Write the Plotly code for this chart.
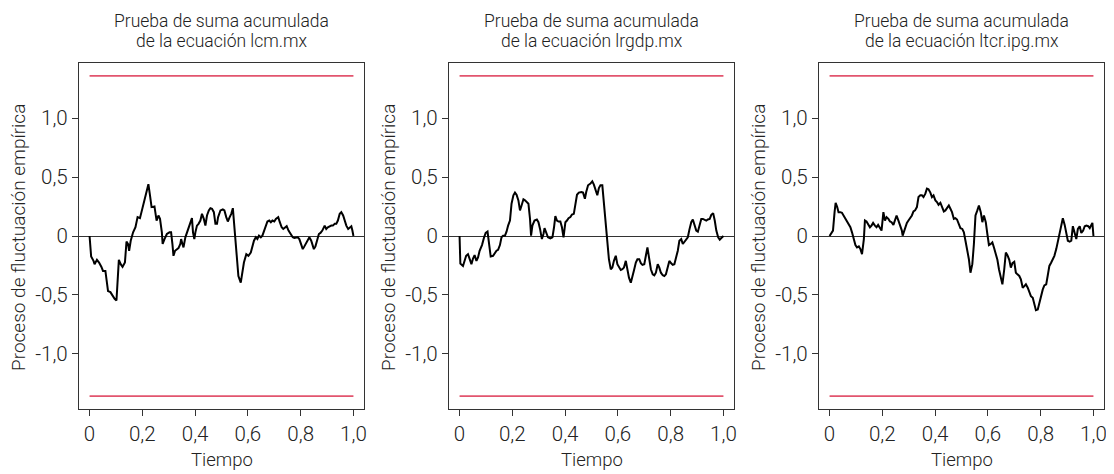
import plotly.graph_objects as go

# ---------------- data ----------------
titles_l1 = ["Prueba de suma acumulada"] * 3
titles_l2 = ["de la ecuación lcm.mx", "de la ecuación lrgdp.mx", "de la ecuación ltcr.ipg.mx"]
x_title = "Tiempo"
y_title = "Proceso de fluctuación empírica"

x_tickvals = [0, 0.2, 0.4, 0.6, 0.8, 1.0]
x_ticktext = ["0", "0,2", "0,4", "0,6", "0,8", "1,0"]
y_tickvals = [-1.0, -0.5, 0, 0.5, 1.0]
y_ticktext = ["-1,0", "-0,5", "0", "0,5", "1,0"]

boundary = 1.358  # 5% critical value of the OLS-CUSUM test

t1 = [0.0, 0.006, 0.015, 0.019, 0.028, 0.036, 0.045, 0.051, 0.060, 0.070, 0.079, 0.087, 0.095, 0.102,
      0.111, 0.118, 0.125, 0.134, 0.140, 0.146, 0.150, 0.156, 0.165, 0.174, 0.182, 0.191, 0.197, 0.204,
      0.210, 0.216, 0.223, 0.229, 0.235, 0.246, 0.254, 0.261, 0.267, 0.274, 0.277, 0.284, 0.293, 0.303,
      0.309, 0.314, 0.318, 0.324, 0.331, 0.337, 0.344, 0.347, 0.352, 0.356, 0.363, 0.369, 0.375, 0.382,
      0.388, 0.392, 0.397, 0.401, 0.407, 0.413, 0.420, 0.426, 0.433, 0.439, 0.445, 0.452, 0.458, 0.464,
      0.471, 0.477, 0.483, 0.487, 0.496, 0.505, 0.511, 0.518, 0.524, 0.531, 0.537, 0.543, 0.551, 0.557,
      0.564, 0.573, 0.579, 0.585, 0.594, 0.602, 0.611, 0.617, 0.623, 0.630, 0.636, 0.642, 0.649, 0.655,
      0.662, 0.668, 0.674, 0.681, 0.687, 0.693, 0.700, 0.706, 0.715, 0.721, 0.728, 0.734, 0.742, 0.747,
      0.754, 0.763, 0.770, 0.776, 0.782, 0.789, 0.795, 0.802, 0.808, 0.814, 0.821, 0.827, 0.833, 0.840,
      0.846, 0.850, 0.856, 0.861, 0.869, 0.875, 0.882, 0.891, 0.897, 0.903, 0.910, 0.916, 0.922, 0.929,
      0.935, 0.941, 0.948, 0.954, 0.961, 0.967, 0.973, 0.980, 0.986, 0.992, 0.996, 1.0]
v1 = [0.0, -0.174, -0.211, -0.239, -0.202, -0.225, -0.262, -0.296, -0.296, -0.467, -0.476, -0.510, -0.533, -0.547,
      -0.202, -0.239, -0.262, -0.225, -0.048, -0.068, -0.125, -0.040, 0.031, 0.074, 0.160, 0.151, 0.202, 0.274,
      0.330, 0.387, 0.439, 0.345, 0.245, 0.251, 0.131, 0.174, 0.145, 0.031, -0.068, -0.026, 0.017, 0.031,
      0.031, -0.068, -0.168, -0.125, -0.111, -0.103, -0.068, -0.026, -0.068, -0.097, -0.011, 0.031, 0.074, 0.103,
      0.151, 0.031, -0.026, 0.031, 0.088, 0.103, 0.131, 0.188, 0.145, 0.088, 0.174, 0.217, 0.236, 0.231,
      0.202, 0.103, 0.103, 0.160, 0.217, 0.225, 0.217, 0.160, 0.123, 0.160, 0.188, 0.236, 0.003, -0.168,
      -0.339, -0.396, -0.311, -0.225, -0.154, -0.168, -0.140, -0.083, -0.040, -0.011, -0.026, 0.003, -0.011, 0.003,
      0.046, 0.088, 0.123, 0.131, 0.117, 0.131, 0.123, 0.145, 0.160, 0.117, 0.074, 0.060, 0.074, 0.083,
      0.046, 0.017, -0.011, -0.017, -0.011, -0.011, -0.026, -0.068, -0.111, -0.088, -0.054, -0.026, -0.011, -0.040,
      -0.097, -0.111, -0.088, -0.054, 0.017, 0.026, 0.046, 0.088, 0.060, 0.074, 0.083, 0.088, 0.088, 0.103,
      0.103, 0.131, 0.188, 0.202, 0.174, 0.131, 0.088, 0.060, 0.074, 0.083, 0.046, 0.0]

t2 = [0.0, 0.003, 0.013, 0.019, 0.025, 0.032, 0.038, 0.045, 0.051, 0.057, 0.064, 0.070, 0.076, 0.085,
      0.093, 0.099, 0.106, 0.112, 0.118, 0.127, 0.134, 0.140, 0.146, 0.153, 0.159, 0.165, 0.172, 0.178,
      0.184, 0.191, 0.197, 0.204, 0.210, 0.216, 0.223, 0.229, 0.235, 0.242, 0.248, 0.254, 0.261, 0.267,
      0.271, 0.276, 0.284, 0.293, 0.299, 0.305, 0.312, 0.318, 0.322, 0.327, 0.335, 0.344, 0.352, 0.358,
      0.363, 0.369, 0.375, 0.382, 0.388, 0.394, 0.401, 0.407, 0.413, 0.420, 0.426, 0.433, 0.439, 0.445,
      0.452, 0.462, 0.468, 0.475, 0.480, 0.487, 0.496, 0.503, 0.509, 0.515, 0.522, 0.528, 0.534, 0.541,
      0.547, 0.553, 0.560, 0.566, 0.573, 0.579, 0.585, 0.592, 0.598, 0.604, 0.611, 0.617, 0.623, 0.630,
      0.636, 0.642, 0.649, 0.655, 0.662, 0.668, 0.674, 0.681, 0.687, 0.693, 0.700, 0.706, 0.712, 0.719,
      0.725, 0.732, 0.738, 0.744, 0.751, 0.757, 0.763, 0.770, 0.776, 0.782, 0.789, 0.795, 0.802, 0.808,
      0.814, 0.821, 0.827, 0.833, 0.840, 0.846, 0.852, 0.859, 0.865, 0.871, 0.878, 0.884, 0.891, 0.897,
      0.903, 0.910, 0.916, 0.922, 0.929, 0.935, 0.941, 0.948, 0.954, 0.961, 0.967, 0.973, 0.980, 0.986,
      0.992, 1.0]
v2 = [0.0, -0.234, -0.254, -0.211, -0.168, -0.154, -0.191, -0.239, -0.191, -0.162, -0.211, -0.182, -0.125, -0.077,
      -0.011, 0.026, 0.037, -0.068, -0.174, -0.168, -0.145, -0.125, -0.117, -0.077, -0.011, 0.003, 0.003, 0.037,
      0.088, 0.131, 0.274, 0.345, 0.368, 0.350, 0.302, 0.217, 0.259, 0.311, 0.302, 0.288, 0.274, 0.145,
      0.003, 0.088, 0.131, 0.140, 0.117, 0.060, -0.026, 0.017, 0.066, 0.037, -0.011, -0.020, -0.011, 0.074,
      0.168, 0.131, 0.123, 0.123, 0.074, -0.011, 0.117, 0.131, 0.151, 0.160, 0.182, 0.188, 0.259, 0.350,
      0.368, 0.373, 0.368, 0.316, 0.373, 0.430, 0.444, 0.464, 0.436, 0.387, 0.345, 0.407, 0.430, 0.430,
      0.288, 0.145, -0.026, -0.197, -0.282, -0.268, -0.211, -0.168, -0.239, -0.268, -0.288, -0.282, -0.268, -0.211,
      -0.282, -0.353, -0.396, -0.353, -0.282, -0.225, -0.197, -0.197, -0.231, -0.245, -0.239, -0.168, -0.097, -0.197,
      -0.282, -0.325, -0.333, -0.311, -0.239, -0.268, -0.311, -0.333, -0.339, -0.325, -0.268, -0.211, -0.231, -0.245,
      -0.239, -0.182, -0.125, -0.040, -0.026, -0.068, -0.048, -0.031, -0.011, 0.054, 0.117, 0.140, 0.088, 0.046,
      0.037, 0.094, 0.145, 0.145, 0.140, 0.131, 0.140, 0.145, 0.179, 0.194, 0.131, 0.046, -0.011, -0.031,
      -0.017, 0.0]

t3 = [0.0, 0.006, 0.013, 0.019, 0.023, 0.029, 0.034, 0.041, 0.047, 0.053, 0.060, 0.066, 0.073, 0.079,
      0.085, 0.092, 0.098, 0.104, 0.111, 0.117, 0.123, 0.130, 0.134, 0.140, 0.146, 0.153, 0.159, 0.165,
      0.172, 0.178, 0.184, 0.191, 0.197, 0.204, 0.210, 0.216, 0.223, 0.229, 0.235, 0.242, 0.248, 0.254,
      0.261, 0.267, 0.274, 0.277, 0.284, 0.293, 0.299, 0.305, 0.312, 0.318, 0.324, 0.331, 0.337, 0.344,
      0.350, 0.356, 0.363, 0.369, 0.375, 0.382, 0.388, 0.394, 0.401, 0.407, 0.413, 0.420, 0.426, 0.433,
      0.439, 0.445, 0.452, 0.458, 0.464, 0.471, 0.477, 0.483, 0.490, 0.496, 0.503, 0.509, 0.515, 0.522,
      0.528, 0.534, 0.541, 0.547, 0.553, 0.560, 0.566, 0.573, 0.579, 0.585, 0.592, 0.598, 0.604, 0.611,
      0.617, 0.623, 0.630, 0.636, 0.642, 0.649, 0.655, 0.662, 0.668, 0.674, 0.681, 0.687, 0.693, 0.700,
      0.706, 0.712, 0.719, 0.725, 0.732, 0.738, 0.744, 0.751, 0.757, 0.763, 0.770, 0.776, 0.782, 0.789,
      0.795, 0.802, 0.808, 0.814, 0.821, 0.827, 0.833, 0.840, 0.846, 0.852, 0.859, 0.865, 0.871, 0.878,
      0.884, 0.891, 0.897, 0.903, 0.910, 0.916, 0.922, 0.929, 0.935, 0.941, 0.948, 0.954, 0.961, 0.967,
      0.973, 0.980, 0.986, 0.992, 0.996, 1.0]
v3 = [0.0, 0.017, 0.046, 0.202, 0.282, 0.245, 0.202, 0.202, 0.197, 0.174, 0.145, 0.131, 0.103, 0.074,
      0.031, -0.026, -0.077, -0.097, -0.088, -0.111, -0.154, -0.026, 0.131, 0.123, 0.103, 0.074, 0.088, 0.111,
      0.088, 0.074, 0.094, 0.060, 0.046, 0.202, 0.131, 0.160, 0.145, 0.123, 0.117, 0.094, 0.145, 0.174,
      0.131, 0.094, 0.046, 0.003, 0.060, 0.111, 0.131, 0.151, 0.174, 0.208, 0.217, 0.245, 0.330, 0.345,
      0.345, 0.330, 0.359, 0.402, 0.396, 0.368, 0.330, 0.345, 0.302, 0.288, 0.265, 0.282, 0.245, 0.208,
      0.217, 0.236, 0.259, 0.231, 0.202, 0.145, 0.151, 0.140, 0.094, 0.066, 0.060, 0.031, -0.040, -0.111,
      -0.197, -0.311, -0.239, -0.068, 0.174, 0.217, 0.259, 0.202, 0.117, 0.174, 0.117, 0.017, -0.077, -0.068,
      -0.054, -0.097, -0.154, -0.202, -0.282, -0.339, -0.410, -0.282, -0.140, -0.162, -0.202, -0.268, -0.231, -0.219,
      -0.311, -0.325, -0.339, -0.368, -0.439, -0.425, -0.410, -0.439, -0.481, -0.510, -0.524, -0.581, -0.630, -0.624,
      -0.567, -0.496, -0.453, -0.419, -0.410, -0.333, -0.254, -0.225, -0.191, -0.168, -0.111, -0.048, 0.017, 0.094,
      0.151, 0.094, 0.037, -0.040, -0.048, -0.040, 0.083, 0.017, -0.026, 0.060, 0.083, 0.026, 0.046, 0.083,
      0.088, 0.083, 0.066, 0.094, 0.111, 0.0]

series_t = [t1, t2, t3]
series_v = [v1, v2, v3]

# ---------------- layout / styles ----------------
W, H = 1114, 474
OFF = 8  # default page margin of the HTML body
FONT = "Roboto, Liberation Sans, Arial, sans-serif"
WEIGHT = 300
TXT = "#222222"
AXC = "#333333"
RED = "#E2556E"
box_px = [(79, 364), (449, 734), (819, 1104)]
top_px, bot_px = 63, 409


def px_x(p):
    return (p - OFF) / W


def px_y(p):
    return 1 - (p - OFF) / H


def fnt(size):
    return dict(family=FONT, size=size, color=TXT, weight=WEIGHT)


fig = go.Figure()
annotations = []
layout_axes = {}
for i in range(3):
    sfx = "" if i == 0 else str(i + 1)
    xa, ya = "x" + sfx, "y" + sfx
    t, v = series_t[i], series_v[i]
    fig.add_trace(go.Scatter(x=[0, 1], y=[boundary, boundary], xaxis=xa, yaxis=ya, mode="lines",
                             line=dict(color=RED, width=1.8), hoverinfo="skip"))
    fig.add_trace(go.Scatter(x=[0, 1], y=[-boundary, -boundary], xaxis=xa, yaxis=ya, mode="lines",
                             line=dict(color=RED, width=1.8), hoverinfo="skip"))
    fig.add_trace(go.Scatter(x=t, y=v, xaxis=xa, yaxis=ya, mode="lines",
                             line=dict(color="black", width=2)))
    l, r = box_px[i]
    layout_axes["xaxis" + sfx] = dict(
        domain=[px_x(l), px_x(r)], range=[-0.04, 1.04], anchor=ya, showgrid=False, zeroline=False,
        showline=True, mirror=True, linecolor=AXC, linewidth=1.3, automargin=False,
        ticks="outside", ticklen=6, tickwidth=1.1, tickcolor=AXC,
        tickvals=x_tickvals, ticktext=x_ticktext,
        tickfont=fnt(20.5), fixedrange=True)
    layout_axes["yaxis" + sfx] = dict(
        domain=[px_y(bot_px), px_y(top_px)], range=[-1.467, 1.467], anchor=xa, showgrid=False,
        zeroline=True, zerolinecolor=AXC, zerolinewidth=1.1, automargin=False,
        showline=True, mirror=True, linecolor=AXC, linewidth=1.3,
        ticks="outside", ticklen=6, tickwidth=1.1, tickcolor=AXC,
        tickvals=y_tickvals, ticktext=y_ticktext,
        tickfont=fnt(20.5), fixedrange=True)
    cxp = (l + r) / 2
    annotations.append(dict(text=titles_l1[i], x=px_x(cxp), y=px_y(21), xref="paper", yref="paper",
                            xanchor="center", yanchor="middle", showarrow=False, font=fnt(17.5)))
    annotations.append(dict(text=titles_l2[i], x=px_x(cxp), y=px_y(41), xref="paper", yref="paper",
                            xanchor="center", yanchor="middle", showarrow=False, font=fnt(17.5)))
    annotations.append(dict(text=x_title, x=px_x(cxp), y=px_y(460), xref="paper", yref="paper",
                            xanchor="center", yanchor="middle", showarrow=False, font=fnt(18.5)))
    annotations.append(dict(text=y_title, x=px_x(l - 61), y=px_y(238), xref="paper", yref="paper",
                            xanchor="center", yanchor="middle", showarrow=False, textangle=-90,
                            font=fnt(19)))

fig.update_layout(
    width=W, height=H, margin=dict(l=0, r=0, t=0, b=0),
    paper_bgcolor="white", plot_bgcolor="white", showlegend=False,
    annotations=annotations, **layout_axes)

fig.write_html("out.html", config={"displayModeBar": False})
